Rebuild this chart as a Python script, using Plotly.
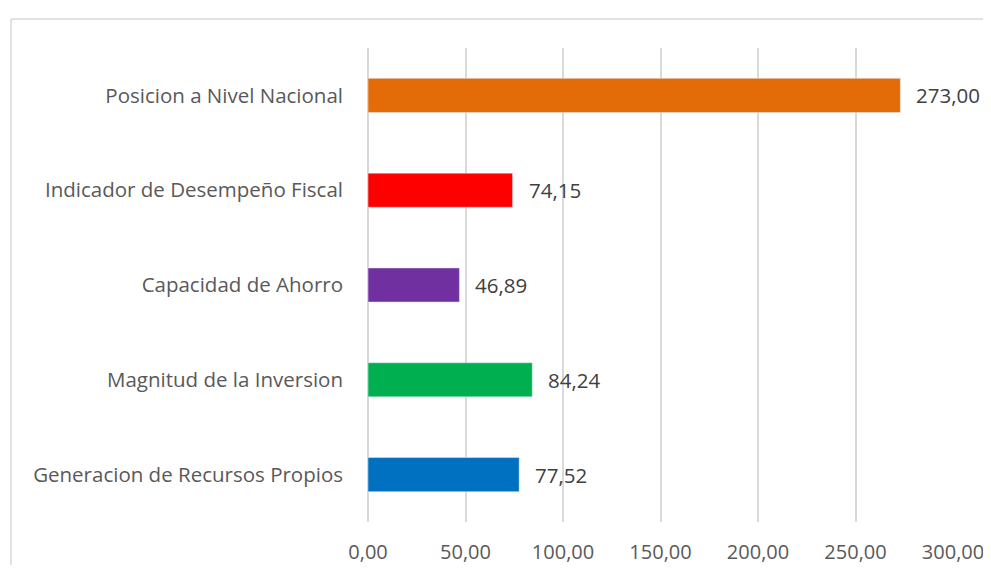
import plotly.graph_objects as go

# Data (bottom to top)
categories = [
    "Generacion de Recursos Propios",
    "Magnitud de la Inversion",
    "Capacidad de Ahorro",
    "Indicador de Desempeño Fiscal",
    "Posicion a Nivel Nacional",
]
values = [77.52, 84.24, 46.89, 74.15, 273.00]
colors = ["#0070C0", "#00B050", "#7030A0", "#FF0000", "#E36C09"]
x_ticks = [0, 50, 100, 150, 200, 250, 300]

W, H = 975, 557
L, R, T, B = 360, 30, 40, 43
pw, ph = W - L - R, H - T - B

fig = go.Figure()
fig.add_trace(
    go.Bar(
        y=categories,
        x=values,
        orientation="h",
        marker_color=colors,
        width=0.36,
        hoverinfo="x+y",
    )
)

# value labels, a bit away from the bar end
for cat, val in zip(categories, values):
    fig.add_annotation(
        x=val,
        y=cat,
        text=f"{val:.2f}".replace(".", ","),
        showarrow=False,
        xanchor="left",
        xshift=14,
        font=dict(size=20.5, color="#404040"),
    )

# chart frame: only the left and top edges are visible in the picture
frame = dict(type="line", xref="paper", yref="paper",
             line=dict(color="#D9D9D9", width=1.5), layer="below")
fig.add_shape(**frame, x0=(3 - L) / pw, x1=(3 - L) / pw, y0=-B / ph, y1=1 + (T - 11) / ph)
fig.add_shape(**frame, x0=(3 - L) / pw, x1=(W - L) / pw, y0=1 + (T - 11) / ph, y1=1 + (T - 11) / ph)

# page body has an 8px margin, so the figure is drawn 8px smaller / shifted
fig.update_layout(
    width=W,
    height=H,
    margin=dict(l=L, r=R, t=T, b=B),
    paper_bgcolor="white",
    plot_bgcolor="white",
    showlegend=False,
    separators=",.",
    font=dict(family="'Open Sans', sans-serif", size=20.5, color="#595959"),
    xaxis=dict(
        range=[0, 300],
        tickvals=x_ticks,
        tickformat=".2f",
        tickfont=dict(size=20),
        showgrid=True,
        gridcolor="#D9D9D9",
        gridwidth=1.5,
        zeroline=True,
        zerolinecolor="#D9D9D9",
        zerolinewidth=1.5,
        showline=False,
        automargin=False,
        ticklabeloverflow="allow",
        ticklabelstandoff=16,
    ),
    yaxis=dict(
        showgrid=False,
        showline=False,
        automargin=False,
        ticklabelstandoff=24,
    ),
)

fig.write_html("out.html")
